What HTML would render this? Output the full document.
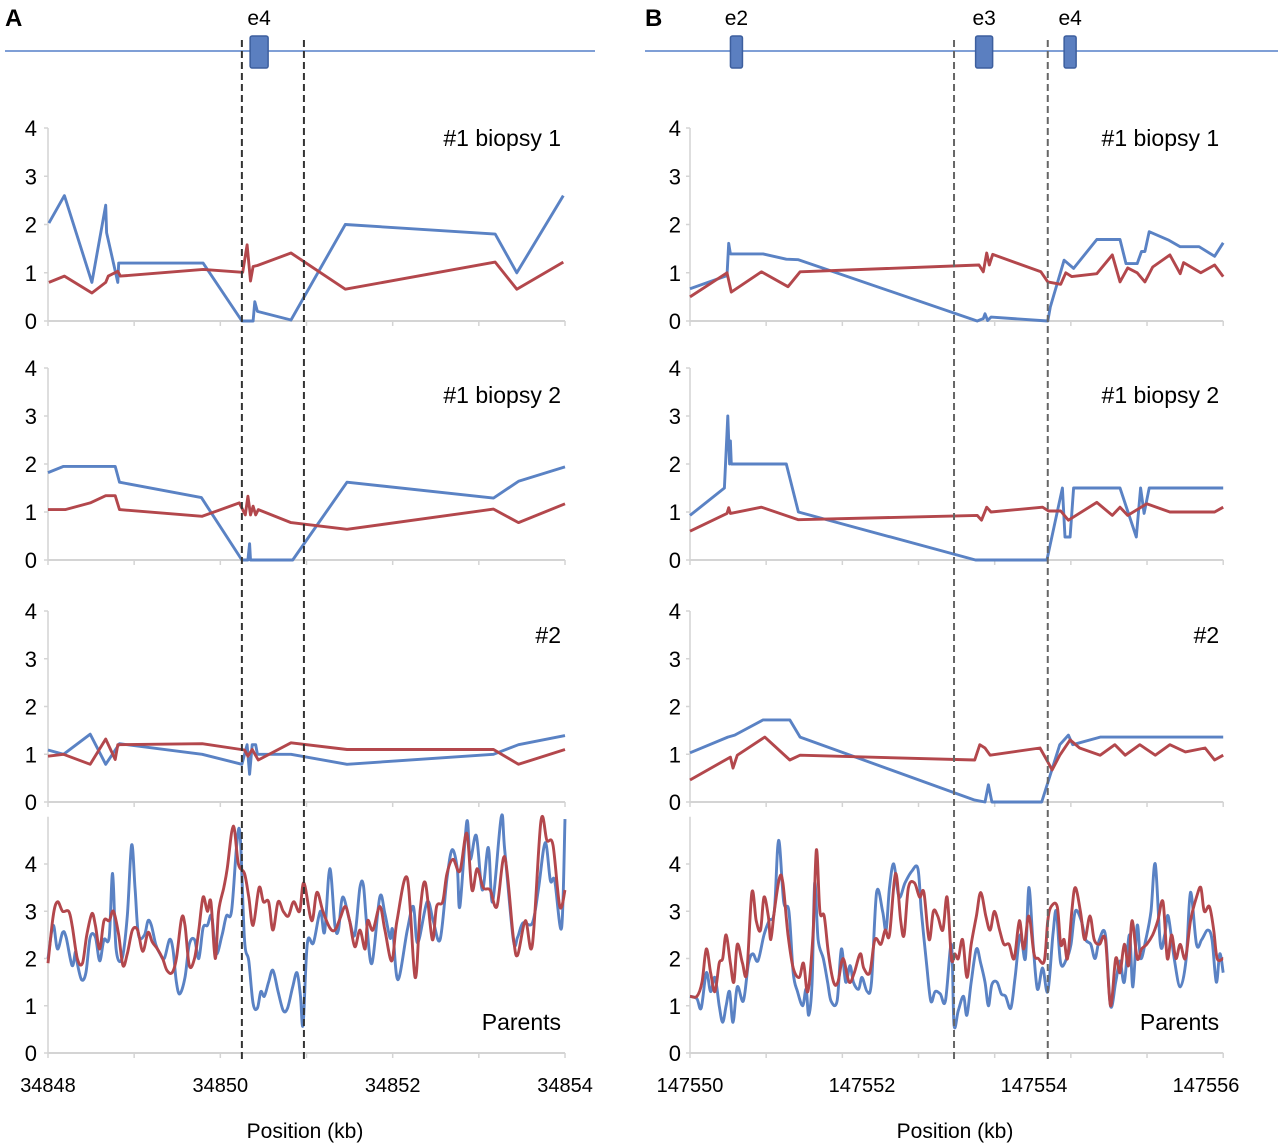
<!DOCTYPE html>
<html><head><meta charset="utf-8"><style>
html,body{margin:0;padding:0;background:#fff;}
svg{display:block;font-family:"Liberation Sans",Arial,sans-serif;}
</style></head><body>
<svg id="fig" width="1280" height="1147" viewBox="0 0 1280 1147" xmlns="http://www.w3.org/2000/svg"></svg>
<script>
// ---------- Data (x = kb offset from panel start, y = copy number) ----------
const startA = 34848, startB = 147550;
const xTickLabelsA = ["34848","34850","34852","34854"];
const xTickLabelsB = ["147550","147552","147554","147556"];
const yTickLabels = [0,1,2,3,4];
const dashedA = [2.25, 2.97];
const dashedB = [3.07, 4.16];
const exonsA = ["e4"];
const exonPosA = [2.45];
const exonsB = ["e2","e3","e4"];
const exonPosB = [0.54, 3.42, 4.42];
const panelTitles = ["#1 biopsy 1","#1 biopsy 2","#2","Parents"];

// A - #1 biopsy 1
const a1BlueX = [0.01,0.19,0.51,0.67,0.68,0.81,0.82,1.80,2.25,2.38,2.40,2.43,2.82,3.45,5.19,5.44,5.98];
const a1BlueY = [2.03,2.6,0.8,2.4,1.83,0.8,1.2,1.2,0,0,0.4,0.2,0.02,2.0,1.8,1.0,2.6];
const a1RedX = [0.01,0.19,0.51,0.67,0.70,0.81,0.84,1.80,2.26,2.31,2.35,2.38,2.43,2.82,3.45,5.19,5.44,5.98];
const a1RedY = [0.8,0.93,0.58,0.8,0.93,1.03,0.93,1.07,1.01,1.58,0.83,1.13,1.15,1.41,0.66,1.22,0.66,1.22];
// A - #1 biopsy 2
const a2BlueX = [0,0.18,0.78,0.83,1.78,2.25,2.32,2.34,2.35,2.84,3.47,5.17,5.46,6.0];
const a2BlueY = [1.82,1.95,1.95,1.62,1.3,0,0,0.34,0,0,1.62,1.29,1.64,1.94];
const a2RedX = [0,0.20,0.49,0.67,0.78,0.83,1.79,2.22,2.29,2.32,2.35,2.38,2.41,2.44,2.82,3.47,5.17,5.46,6.0];
const a2RedY = [1.05,1.05,1.19,1.34,1.34,1.05,0.91,1.19,0.94,1.33,0.94,1.12,0.94,1.05,0.78,0.64,1.06,0.78,1.17];
// A - #2
const a3BlueX = [0,0.18,0.49,0.67,0.83,1.79,2.25,2.31,2.34,2.37,2.41,2.43,2.82,3.47,5.17,5.46,6.0];
const a3BlueY = [1.09,1.0,1.42,0.79,1.22,1.0,0.79,1.2,0.58,1.2,1.2,1.0,1.0,0.79,1.0,1.2,1.39];
const a3RedX = [0,0.18,0.49,0.67,0.78,0.81,1.79,2.28,2.32,2.37,2.44,2.82,3.47,5.17,5.46,6.0];
const a3RedY = [0.96,1.0,0.79,1.32,0.89,1.2,1.22,1.09,0.96,1.1,0.88,1.24,1.1,1.1,0.79,1.1];
// A - Parents
const a4BlueX = [0,.06,.11,.17,.21,.28,.32,.34,.39,.44,.49,.55,.60,.65,.71,.75,.79,.86,.92,.97,1.01,1.05,1.12,1.16,1.20,1.25,1.30,1.35,1.41,1.45,1.49,1.53,1.59,1.64,1.70,1.75,1.80,1.85,1.90,1.95,2.02,2.07,2.13,2.19,2.23,2.28,2.33,2.38,2.43,2.47,2.51,2.56,2.61,2.67,2.73,2.78,2.84,2.89,2.93,2.96,3.01,3.08,3.16,3.21,3.27,3.33,3.37,3.42,3.50,3.56,3.62,3.66,3.70,3.76,3.85,3.91,3.97,4.00,4.06,4.17,4.24,4.29,4.40,4.47,4.55,4.63,4.69,4.75,4.78,4.86,4.90,4.97,5.04,5.11,5.16,5.26,5.30,5.40,5.45,5.51,5.62,5.69,5.77,5.83,5.88,5.96,6.0];
const a4BlueY = [2.0,2.7,2.2,2.55,2.45,1.85,2.15,1.9,1.55,1.7,2.45,2.45,1.95,2.4,2.45,3.8,2.2,2.0,2.9,4.4,3.5,2.5,2.5,2.8,2.7,2.3,2.1,2.0,2.4,2.2,1.5,1.25,1.6,2.3,2.4,2.0,2.65,2.7,2.9,2.1,2.5,2.9,3.0,4.4,4.6,2.4,1.95,1.05,0.95,1.3,1.2,1.5,1.75,1.3,0.9,0.95,1.4,1.7,1.2,0.6,2.33,2.33,3.0,2.56,3.9,2.7,2.6,3.3,2.8,2.5,3.5,3.55,2.7,1.9,3.3,2.95,2.43,2.6,1.55,2.6,3.1,2.33,3.2,2.8,2.4,3.7,4.3,3.9,3.1,4.9,4.1,4.6,3.45,4.35,3.2,5.0,4.3,2.4,2.45,2.75,2.75,3.45,4.45,3.65,3.65,2.65,4.95];
const a4RedX = [0,.06,.11,.17,.24,.28,.34,.40,.45,.51,.55,.60,.65,.71,.76,.82,.87,.92,.98,1.04,1.10,1.16,1.21,1.27,1.33,1.38,1.44,1.49,1.55,1.59,1.64,1.70,1.75,1.80,1.85,1.89,1.94,1.98,2.04,2.08,2.15,2.21,2.28,2.33,2.38,2.45,2.50,2.56,2.61,2.67,2.73,2.79,2.85,2.92,2.97,3.06,3.12,3.19,3.27,3.33,3.39,3.45,3.50,3.56,3.62,3.68,3.71,3.77,3.85,3.91,3.99,4.05,4.17,4.26,4.32,4.38,4.46,4.51,4.58,4.63,4.70,4.78,4.86,4.92,4.98,5.05,5.13,5.21,5.30,5.40,5.45,5.54,5.62,5.72,5.79,5.86,5.94,6.0];
const a4RedY = [1.9,2.9,3.2,3.0,3.0,2.7,2.0,1.9,2.5,2.95,2.7,2.2,2.8,2.8,3.0,2.5,1.85,2.1,2.6,2.6,2.15,2.55,2.35,2.2,2.0,1.75,1.7,2.0,2.85,2.7,1.85,2.0,2.6,3.3,3.0,3.2,2.0,3.0,3.5,3.9,4.8,4.0,3.8,3.3,2.7,3.5,3.2,3.2,2.6,3.2,3.0,2.9,3.2,3.0,3.6,2.8,3.4,3.0,2.65,2.6,2.85,3.1,2.8,2.25,2.6,2.2,2.8,2.6,3.1,2.6,1.95,2.8,3.7,1.6,3.05,3.6,2.4,3.1,3.2,3.8,4.1,3.85,4.65,3.45,3.9,3.5,3.45,3.1,4.15,2.45,2.07,2.8,2.28,4.9,4.5,4.4,3.1,3.45];

// B - #1 biopsy 1
const b1BlueX = [0,0.43,0.45,0.47,0.85,1.12,1.26,3.34,3.41,3.43,3.46,3.50,4.16,4.19,4.35,4.46,4.73,5.0,5.07,5.2,5.25,5.29,5.34,5.56,5.70,5.92,6.1,6.2];
const b1BlueY = [0.67,0.94,1.61,1.39,1.39,1.28,1.27,0,0.05,0.15,0.01,0.08,0,0.29,1.26,1.09,1.69,1.69,1.19,1.19,1.44,1.44,1.85,1.68,1.54,1.54,1.34,1.62];
const b1RedX = [0,0.43,0.48,0.83,1.14,1.28,3.36,3.41,3.45,3.48,3.52,4.08,4.16,4.31,4.37,4.44,4.73,4.91,5.0,5.09,5.2,5.29,5.38,5.58,5.70,5.74,5.94,6.1,6.2];
const b1RedY = [0.5,1.0,0.6,1.02,0.71,1.02,1.16,1.02,1.41,1.16,1.38,1.02,0.81,0.76,1.0,0.92,0.98,1.37,0.81,1.1,1.0,0.81,1.12,1.37,0.98,1.21,1.0,1.16,0.92];
// B - #1 biopsy 2
const b2BlueX = [0,0.40,0.44,0.46,0.47,0.48,1.12,1.26,3.32,4.15,4.33,4.36,4.42,4.46,5.0,5.19,5.24,5.28,5.34,6.2];
const b2BlueY = [0.93,1.5,3.0,2.0,2.48,2.0,2.0,1.0,0,0,1.5,0.48,0.48,1.5,1.5,0.48,1.5,0.97,1.5,1.5];
const b2RedX = [0,0.43,0.45,0.47,0.83,1.26,3.34,3.39,3.45,3.50,4.1,4.17,4.31,4.4,4.73,4.91,5.0,5.09,5.31,5.58,6.1,6.2];
const b2RedY = [0.6,0.97,1.09,0.97,1.1,0.84,0.93,0.83,1.1,1.0,1.1,1.02,1.02,0.83,1.2,0.93,1.1,0.93,1.17,1.0,1.0,1.1];
// B - #2
const b3BlueX = [0,0.44,0.52,0.85,1.16,1.28,3.31,3.43,3.47,3.51,4.09,4.3,4.4,4.45,4.77,6.2];
const b3BlueY = [1.03,1.36,1.4,1.72,1.72,1.36,0.04,0,0.36,0,0,1.2,1.4,1.2,1.36,1.36];
const b3RedX = [0,0.47,0.50,0.55,0.87,1.16,1.28,3.31,3.37,3.43,3.49,4.07,4.16,4.21,4.3,4.42,4.53,4.77,4.94,5.06,5.23,5.41,5.58,5.76,5.99,6.1,6.2];
const b3RedY = [0.46,0.94,0.71,0.98,1.36,0.88,0.98,0.88,1.2,1.13,0.98,1.13,0.84,0.67,0.98,1.3,1.13,0.98,1.2,0.98,1.2,0.98,1.2,1.05,1.13,0.88,0.98];
// B - Parents
const b4BlueX = [0,.08,.13,.19,.24,.29,.34,.38,.42,.46,.50,.55,.62,.68,.73,.79,.86,.92,.98,1.03,1.09,1.15,1.20,1.25,1.31,1.35,1.38,1.42,1.45,1.49,1.55,1.60,1.64,1.71,1.76,1.81,1.86,1.90,1.96,2.0,2.06,2.11,2.17,2.24,2.28,2.32,2.37,2.43,2.50,2.58,2.65,2.69,2.75,2.80,2.85,2.91,2.97,3.04,3.07,3.12,3.18,3.22,3.27,3.33,3.38,3.43,3.47,3.51,3.57,3.62,3.67,3.73,3.78,3.84,3.90,3.94,3.99,4.04,4.10,4.16,4.22,4.26,4.31,4.38,4.43,4.48,4.55,4.60,4.66,4.71,4.76,4.83,4.89,4.95,5.0,5.05,5.11,5.15,5.20,5.24,5.30,5.36,5.41,5.47,5.52,5.56,5.63,5.70,5.77,5.82,5.89,5.95,6.02,6.07,6.12,6.16,6.2];
const b4BlueY = [1.2,1.15,.95,1.7,1.3,1.6,1.0,.65,1.0,1.3,.65,1.4,1.1,1.9,2.1,1.95,2.5,2.8,3.0,4.5,3.2,3.0,1.7,1.3,1.0,1.35,.8,1.5,3.6,2.4,2.0,1.5,1.1,1.1,2.2,1.5,1.85,1.5,1.35,1.6,1.3,1.5,3.4,3.0,2.6,3.5,4.0,3.3,3.6,3.85,3.9,3.0,1.9,1.1,1.3,1.25,1.1,2.3,.6,.9,1.2,.8,1.5,2.2,1.9,1.5,1.0,1.45,1.5,1.25,1.2,.95,1.6,2.5,2.0,3.5,2.3,1.35,1.8,1.3,2.5,3.0,1.9,2.0,2.3,3.0,2.8,2.4,2.3,2.0,2.4,2.5,1.0,1.5,1.95,1.5,2.5,1.4,2.7,2.0,2.4,3.0,4.0,2.3,2.5,2.9,2.0,1.4,2.0,3.4,2.3,2.4,2.6,2.4,1.5,2.1,1.7];
const b4RedX = [0,.08,.14,.19,.24,.29,.34,.38,.42,.47,.51,.55,.61,.66,.72,.77,.82,.86,.91,.94,.98,1.04,1.08,1.14,1.20,1.27,1.32,1.37,1.43,1.47,1.51,1.56,1.61,1.67,1.72,1.78,1.85,1.91,1.98,2.02,2.09,2.15,2.22,2.27,2.32,2.39,2.45,2.49,2.54,2.61,2.67,2.72,2.78,2.83,2.88,2.94,2.99,3.04,3.08,3.12,3.17,3.22,3.27,3.33,3.38,3.44,3.49,3.54,3.60,3.65,3.71,3.77,3.83,3.88,3.94,4.0,4.05,4.12,4.16,4.20,4.27,4.31,4.35,4.39,4.44,4.48,4.54,4.59,4.65,4.70,4.76,4.83,4.89,4.95,5.0,5.05,5.10,5.14,5.20,5.25,5.31,5.38,5.44,5.50,5.55,5.60,5.65,5.70,5.76,5.82,5.89,5.94,5.98,6.04,6.09,6.13,6.2];
const b4RedY = [1.2,1.2,1.5,2.2,1.7,1.3,1.9,2.0,2.5,1.9,1.5,2.3,1.9,1.7,3.4,2.8,2.6,3.3,2.9,2.4,3.0,3.7,3.6,2.5,1.8,1.6,1.9,1.3,2.5,4.3,3.0,2.9,2.1,1.5,1.5,2.0,1.5,1.7,2.1,1.8,1.7,2.4,2.3,2.6,2.5,3.8,2.8,2.5,3.5,3.6,3.3,3.4,2.4,3.0,2.9,2.6,3.3,2.0,2.1,2.0,2.4,1.6,2.3,2.9,3.4,2.9,2.6,3.0,2.6,2.3,2.3,2.0,2.8,2.2,2.9,2.1,2.0,1.95,2.8,3.1,3.1,2.3,2.4,2.0,3.0,3.5,3.0,2.4,2.9,2.4,2.3,2.4,1.0,2.0,1.7,2.3,1.85,2.8,2.0,2.2,2.3,2.5,2.8,3.2,2.0,2.5,2.0,2.3,2.0,2.8,3.3,3.5,3.0,3.1,2.6,2.0,2.0];

// ---------- Layout ----------
const NS = "http://www.w3.org/2000/svg";
const svg = document.getElementById('fig');
const BLUE = "#5a82c4", RED = "#b3474c";
const sides = [
  {key:'a', x0:48, ppk:86.17, span:6, start:startA, labels:xTickLabelsA, nTicks:6, dashed:dashedA, exons:exonsA, exonPos:exonPosA, trackL:5, trackR:595, letter:'A', dashColor:'#333'},
  {key:'b', x0:690, ppk:86, span:6.2, start:startB, labels:xTickLabelsB, nTicks:7, dashed:dashedB, exons:exonsB, exonPos:exonPosB, trackL:645, trackR:1278, letter:'B', dashColor:'#666'}
];
const panels = [
  {top:128, bottom:321, max:4, titleY:146},
  {top:368, bottom:560, max:4, titleY:403},
  {top:611, bottom:802, max:4, titleY:643},
  {top:864, bottom:1053, max:4, titleY:1030, ext:5}
];
const series = {
  a:[[a1BlueX,a1BlueY,a1RedX,a1RedY],[a2BlueX,a2BlueY,a2RedX,a2RedY],[a3BlueX,a3BlueY,a3RedX,a3RedY],[a4BlueX,a4BlueY,a4RedX,a4RedY]],
  b:[[b1BlueX,b1BlueY,b1RedX,b1RedY],[b2BlueX,b2BlueY,b2RedX,b2RedY],[b3BlueX,b3BlueY,b3RedX,b3RedY],[b4BlueX,b4BlueY,b4RedX,b4RedY]]
};

function mk(tag, attrs, parent){
  const e = document.createElementNS(NS, tag);
  for (const k in attrs) e.setAttribute(k, attrs[k]);
  (parent||svg).appendChild(e);
  return e;
}
function smoothPath(pts){
  let d = "M"+pts[0][0].toFixed(1)+","+pts[0][1].toFixed(1);
  for (let i=0;i<pts.length-1;i++){
    const p0=pts[Math.max(0,i-1)], p1=pts[i], p2=pts[i+1], p3=pts[Math.min(pts.length-1,i+2)];
    const c1=[p1[0]+(p2[0]-p0[0])/6, p1[1]+(p2[1]-p0[1])/6];
    const c2=[p2[0]-(p3[0]-p1[0])/6, p2[1]-(p3[1]-p1[1])/6];
    d += " C"+c1[0].toFixed(1)+","+c1[1].toFixed(1)+" "+c2[0].toFixed(1)+","+c2[1].toFixed(1)+" "+p2[0].toFixed(1)+","+p2[1].toFixed(1);
  }
  return d;
}

sides.forEach(s=>{
  const xs = kb => s.x0 + kb*s.ppk;
  const xEnd = xs(s.span);
  const L = mk('text',{x:s.letter==='A'?5:645,y:26,'font-size':24,'font-weight':'bold',fill:'#000'});
  
  
  L.textContent = s.letter;
  const tr = mk('line',{x1:s.trackL,y1:51,x2:s.trackR,y2:51,stroke:'#7f9fd6','stroke-width':2});
  
  
  s.exons.forEach((nm,i)=>{
    const cx = xs(s.exonPos[i]);
    const w = nm==='e3'?17:(s.key==='a'?18:12);
    const r = mk('rect',{x:cx-w/2,y:36,width:w,height:32,rx:2,fill:'#5b7fc0',stroke:'#3d5f9e','stroke-width':1.5});
    
    
    const t = mk('text',{x:cx,y:25,'font-size':21,'text-anchor':'middle',fill:'#000'});
    
    
    t.textContent = nm;
  });
  panels.forEach((p,pi)=>{
    const unit = (p.bottom-p.top)/p.max;
    const ys = v => p.bottom - v*unit;
    const axTop = p.ext ? ys(p.ext) : p.top;
    const ax = mk('line',{x1:s.x0,y1:axTop,x2:s.x0,y2:p.bottom,stroke:'#d4d4d4','stroke-width':1.5});
    
    
    const bx = mk('line',{x1:s.x0,y1:p.bottom,x2:xEnd,y2:p.bottom,stroke:'#d4d4d4','stroke-width':2});
    
    
    for (let i=0;i<=s.nTicks;i++){
      const tx = s.x0 + (xEnd-s.x0)*i/s.nTicks;
      const tk = mk('line',{x1:tx,y1:p.bottom,x2:tx,y2:p.bottom+5,stroke:'#d4d4d4','stroke-width':1.5});
      
      
    }
    yTickLabels.forEach(v=>{
      const yt = mk('line',{x1:s.x0-4,y1:ys(v),x2:s.x0,y2:ys(v),stroke:'#d4d4d4','stroke-width':1.5});
      
      
      const t = mk('text',{x:s.x0-(s.key==='a'?11:9),y:ys(v)+8,'font-size':22,'text-anchor':'end',fill:'#000'});
      
      
      t.textContent = v;
    });
    const tt = mk('text',{x:xEnd-4,y:p.titleY,'font-size':23,'text-anchor':'end',fill:'#000'});
    
    
    tt.textContent = panelTitles[pi];
    const sr = series[s.key][pi];
    [[sr[0],sr[1],BLUE,'blue'],[sr[2],sr[3],RED,'red']].forEach(([X,Y,col,nm])=>{
      const pts = X.map((x,i)=>[xs(x), ys(Y[i])]);
      let d;
      if (pi===3) d = smoothPath(pts);
      else d = "M"+pts.map(q=>q[0].toFixed(1)+","+q[1].toFixed(1)).join(" L");
      const path = mk('path',{d:d,fill:'none',stroke:col,'stroke-width':2.9,'stroke-linejoin':'round'});
      
      
    });
  });
  s.labels.forEach((lab,i)=>{
    const kb = Number(lab) - s.start;
    const t = mk('text',{x:xs(kb),y:1092,'font-size':20,'text-anchor':'middle',fill:'#000'});
    
    
    t.textContent = lab;
  });
  const xt = mk('text',{x:s.key==='a'?305:955,y:1138,'font-size':21,'text-anchor':'middle',fill:'#000'});
  
  
  xt.textContent = 'Position (kb)';
  s.dashed.forEach(kb=>{
    const dl = mk('line',{x1:xs(kb),y1:40,x2:xs(kb),y2:1060,stroke:s.dashColor,'stroke-width':2,'stroke-dasharray':'7,4'});
    
    
  });
});
</script>
</body></html>
